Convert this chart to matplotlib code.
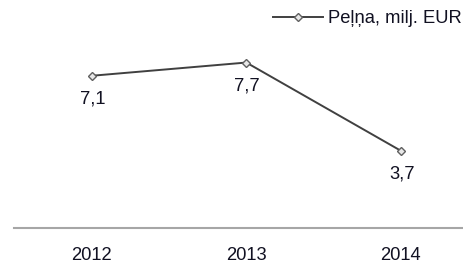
import matplotlib
matplotlib.use("Agg")
import matplotlib.pyplot as plt

years = ["2012", "2013", "2014"]
profit = [7.1, 7.7, 3.7]
labels = ["7,1", "7,7", "3,7"]
series_name = "Peļņa, milj. EUR"

plt.rcParams['font.family'] = ['Liberation Sans', 'DejaVu Sans']

W, H = 464, 264
fig = plt.figure(figsize=(W/100, H/100), dpi=100)
left_px, right_px = 14.4, 14.4 + 3*154.6
bottom_px, top_px = 228, 11.8
ax = fig.add_axes([left_px/W, (H-bottom_px)/H, (right_px-left_px)/W, (bottom_px-top_px)/H])

FS = 13.2
x = list(range(len(years)))
ax.plot(x, profit, color='#404040', lw=1.4, marker='D', ms=4,
        mfc='#e8e8e8', mec='#606060', mew=1.0, label=series_name, zorder=3)
for xi, yi, t in zip(x, profit, labels):
    ax.annotate(t, (xi, yi), xytext=(1, -23), textcoords='offset pixels',
                ha='center', va='center', fontsize=FS, color='#111122')

ax.set_xlim(-0.5, 2.5)
ax.set_ylim(0.2, 10)
ax.set_xticks(x)
ax.set_xticklabels(years, fontsize=FS, color='#111122')
ax.tick_params(axis='x', length=0, pad=14)
ax.set_yticks([])
for s in ['top', 'right', 'left']:
    ax.spines[s].set_visible(False)
ax.spines['bottom'].set_color('#a6a6a6')
ax.spines['bottom'].set_linewidth(1.5)

ax.legend(loc='upper right', bbox_to_anchor=(472/W, 1.0), bbox_transform=fig.transFigure,
          frameon=False, fontsize=FS, handlelength=2.7, handletextpad=0.3,
          borderaxespad=0.15, labelcolor='#111122')

fig.savefig("out.png", dpi=100)
